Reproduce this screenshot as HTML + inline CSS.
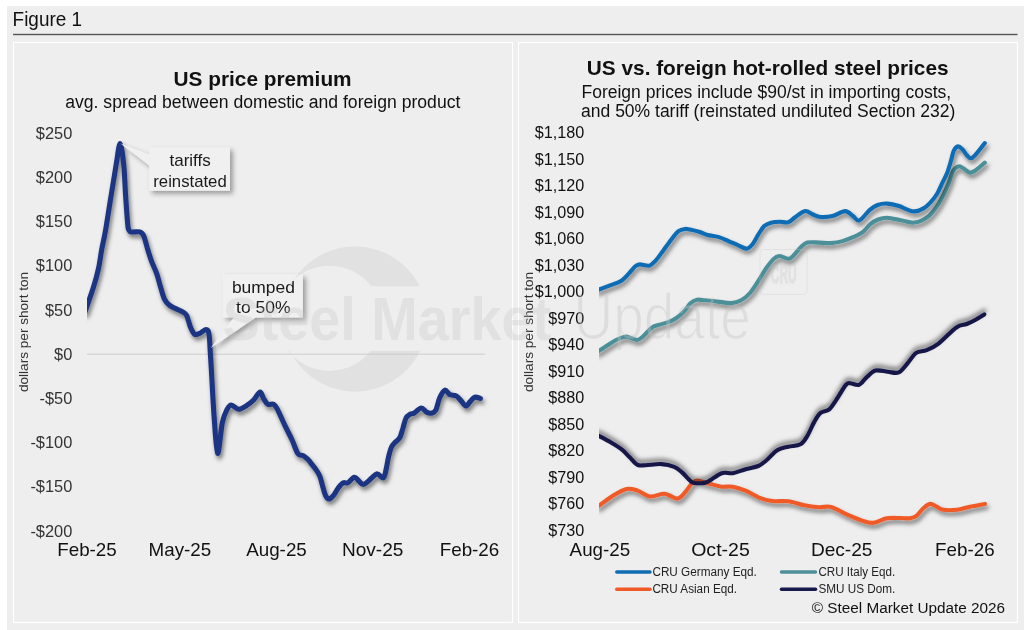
<!DOCTYPE html>
<html><head><meta charset="utf-8"><title>Figure 1</title>
<style>
html,body{margin:0;padding:0;background:#fff;}
body{width:1024px;height:630px;overflow:hidden;position:relative;font-family:"Liberation Sans", "Helvetica Neue", Helvetica, Arial, sans-serif;}
svg{position:absolute;left:0;top:0;display:block;}
svg{fill:#111111;} svg text{font-family:"Liberation Sans", "Helvetica Neue", Helvetica, Arial, sans-serif;}
</style></head><body>
<svg width="1024" height="630" viewBox="0 0 1024 630">
<defs>
<filter id="sh" x="-10%" y="-10%" width="130%" height="130%">
<feDropShadow dx="1.8" dy="3.5" stdDeviation="2.2" flood-color="#000" flood-opacity="0.5"/>
</filter>
<filter id="shup" x="-10%" y="-10%" width="130%" height="130%">
<feDropShadow dx="0" dy="-3.5" stdDeviation="2.2" flood-color="#000" flood-opacity="0.5"/>
</filter>
<filter id="bsh" x="-20%" y="-20%" width="150%" height="150%">
<feDropShadow dx="3" dy="3" stdDeviation="2.5" flood-color="#000" flood-opacity="0.35"/>
</filter>
<clipPath id="clipL"><rect x="87" y="100" width="420" height="440"/></clipPath>
<clipPath id="clipR"><rect x="599" y="100" width="410" height="440"/></clipPath>
</defs>
<rect x="7" y="6" width="1017" height="624" fill="#eeeeee"/>
<text x="12.6" y="25.9" font-size="19.6" textLength="69.5" lengthAdjust="spacingAndGlyphs">Figure 1</text>
<rect x="13" y="33.8" width="1004.5" height="1.4" fill="#555"/>
<rect x="13.5" y="42.5" width="499" height="580" fill="none" stroke="#fff" stroke-width="1.2"/>
<rect x="518.5" y="42.5" width="499" height="580" fill="none" stroke="#fff" stroke-width="1.2"/>

<!-- LEFT CHART -->
<text x="262.6" y="85.8" font-size="20.8" font-weight="bold" text-anchor="middle">US price premium</text>
<text x="262.8" y="107.6" font-size="17.6" text-anchor="middle">avg. spread between domestic and foreign product</text>
<g font-size="16.4" text-anchor="end" fill="#333">
<text x="72.3" y="138.9">$250</text>
<text x="72.3" y="183.1">$200</text>
<text x="72.3" y="227.3">$150</text>
<text x="72.3" y="271.4">$100</text>
<text x="72.3" y="315.6">$50</text>
<text x="72.3" y="359.8">$0</text>
<text x="72.3" y="404">-$50</text>
<text x="72.3" y="448.2">-$100</text>
<text x="72.3" y="492.3">-$150</text>
<text x="72.3" y="536.5">-$200</text>
</g>
<text transform="translate(27.6,332) rotate(-90)" font-size="13.6" text-anchor="middle" fill="#333">dollars per short ton</text>
<g font-size="18.6">
<text x="57.2" y="555.6" textLength="59.6" lengthAdjust="spacingAndGlyphs">Feb-25</text>
<text x="148.6" y="555.6" textLength="62.6" lengthAdjust="spacingAndGlyphs">May-25</text>
<text x="246.2" y="555.6" textLength="60.6" lengthAdjust="spacingAndGlyphs">Aug-25</text>
<text x="342" y="555.6" textLength="61.4" lengthAdjust="spacingAndGlyphs">Nov-25</text>
<text x="439.7" y="555.6" textLength="59.6" lengthAdjust="spacingAndGlyphs">Feb-26</text>
</g>
<rect x="87" y="353.6" width="398" height="1.2" fill="#d2d2d2"/>
<g clip-path="url(#clipL)">
<path d="M85,312 C86.4,307.9 91.2,294.4 93.5,287.1 C95.8,279.8 97.2,274.5 98.6,268.1 C100,261.8 100.6,255.3 101.8,249 C103,242.7 104,239.2 105.6,230 C107.2,220.8 109.6,204.7 111.4,193.8 C113.2,182.9 114.8,172.8 116.2,164.4 C117.7,156 118.8,143.6 120.1,143.6 C121.3,143.6 122.8,156 123.7,164.4 C124.6,172.8 124.9,184.7 125.5,193.8 C126.1,202.9 126.8,213.2 127.3,219 C127.8,224.8 127.7,226.3 128.3,228.5 C128.9,230.7 129.1,231.3 131,231.9 C132.9,232.5 137.7,231.2 139.8,231.9 C141.9,232.6 142.5,232.9 143.8,235.9 C145.1,238.9 146.5,245.5 147.8,249.8 C149.1,254.1 150.2,257.7 151.7,261.7 C153.2,265.7 155.2,269.3 156.7,273.6 C158.2,277.9 159.4,283.2 160.7,287.5 C162,291.8 163.1,296.4 164.6,299.4 C166.1,302.4 166.8,303.3 169.6,305.3 C172.4,307.3 178.7,309.7 181.5,311.3 C184.3,312.9 185,312.6 186.5,315.2 C188,317.8 189.1,324 190.4,327.1 C191.7,330.2 192.9,333 194.4,334.1 C195.9,335.2 197.1,334.1 199.4,333.5 C201.7,332.9 206.2,327 208.1,330.7 C209.9,334.4 209.5,341.6 210.5,355.7 C211.5,369.8 212.8,398.7 214,415 C215.2,431.3 216.2,452.1 217.6,453.3 C219,454.5 220.8,429.7 222.4,422.4 C224,415.1 225.6,412.2 227.1,409.3 C228.6,406.4 229.5,405 231.4,405 C233.3,405 236.1,409.2 238.6,409.3 C241.1,409.4 243.9,407.2 246.4,405.7 C248.9,404.1 251.3,402.3 253.6,400 C255.9,397.7 258.3,392.3 260,392.1 C261.7,391.9 262.3,396.6 263.6,398.6 C264.9,400.6 266.2,403.4 267.9,404.3 C269.6,405.2 272.1,403.6 273.6,404.3 C275.1,405 275.2,405 277.1,408.6 C279,412.2 282.5,420.5 285,425.7 C287.5,430.9 290,435.4 292.1,440 C294.2,444.6 296.1,451 297.9,453.6 C299.7,456.2 301.2,454.6 302.9,455.5 C304.6,456.4 306.5,458 307.9,459.3 C309.3,460.6 309.6,461.4 311.1,463.3 C312.6,465.2 315.2,468.4 316.7,470.6 C318.2,472.8 319,474 320,476.7 C321,479.4 321.9,483.5 322.8,486.7 C323.7,489.9 324.6,493.6 325.6,495.6 C326.6,497.6 327.6,498.9 328.9,498.9 C330.2,498.9 331.7,497.5 333.3,495.6 C334.9,493.8 336.6,489.9 338.3,487.8 C340,485.7 341.7,483.6 343.3,482.8 C344.9,482 346,483.7 347.8,482.8 C349.6,481.9 352.5,477.5 354.4,477.2 C356.2,476.9 357.4,479.9 358.9,481.1 C360.4,482.3 361.6,484.5 363.3,484.4 C365,484.3 366.7,482.4 368.9,480.6 C371.1,478.9 374.3,474.4 376.7,473.9 C379.1,473.4 381.7,478.6 383.3,477.8 C384.9,477 385.3,472.5 386.2,469 C387.1,465.5 387.6,460.6 388.5,457 C389.4,453.4 390.3,449.8 391.4,447.3 C392.5,444.9 393.8,443.9 395.2,442.3 C396.6,440.7 398.4,440.1 399.7,437.8 C401,435.5 401.8,431.6 402.9,428.3 C403.9,425 404.8,420.4 406,418.1 C407.2,415.8 408.5,415.2 409.9,414.3 C411.3,413.4 412.4,414.1 414.3,413 C416.2,411.9 419.2,408.1 421.3,408 C423.4,407.9 425.2,411.6 427,412.4 C428.8,413.2 430.6,413.4 432.1,413 C433.6,412.6 434.6,412.4 435.9,409.9 C437.2,407.4 438.2,401.1 439.7,397.8 C441.2,394.5 443.1,390.7 444.8,390.2 C446.5,389.7 448,393.7 449.9,394.6 C451.8,395.6 454.3,394.8 456.2,395.9 C458.1,397 459.7,399.3 461.3,401 C462.9,402.7 464.3,405.9 465.8,406 C467.3,406.1 468.7,403.1 470.2,401.6 C471.7,400.1 473,397.7 474.7,397.2 C476.4,396.7 479.4,398.2 480.4,398.4" fill="none" stroke="#1f3682" stroke-width="5.1" stroke-linejoin="round" stroke-linecap="round" filter="url(#sh)"/>
</g>

<!-- callouts -->
<g filter="url(#bsh)">
<path d="M149,147.3 L230,147.3 L230,190.8 L149,190.8 L149,165.2 L120.5,143.4 L149,154.4 Z" fill="#f0f0f0"/>
<path d="M222.9,274.3 L302.9,274.3 L302.9,317.6 L255.7,317.6 L210.7,347.9 L234,317.6 L222.9,317.6 Z" fill="#f0f0f0"/>
</g>
<g font-size="17" text-anchor="middle" fill="#1a1a1a">
<text x="190.1" y="166.2">tariffs</text>
<text x="190" y="186.7" textLength="73.5" lengthAdjust="spacingAndGlyphs">reinstated</text>
<text x="263.4" y="292.5" textLength="63" lengthAdjust="spacingAndGlyphs">bumped</text>
<text x="263.3" y="313.4" textLength="54.5" lengthAdjust="spacingAndGlyphs">to 50%</text>
</g>

<!-- RIGHT CHART -->
<text x="767.7" y="75.3" font-size="20.8" font-weight="bold" text-anchor="middle">US vs. foreign hot-rolled steel prices</text>
<text x="766.3" y="98" font-size="17.5" text-anchor="middle">Foreign prices include $90/st in importing costs,</text>
<text x="768.2" y="116.7" font-size="17.5" text-anchor="middle">and 50% tariff (reinstated undiluted Section 232)</text>
<g font-size="16.2" text-anchor="end">
<text x="584.3" y="138.1">$1,180</text>
<text x="584.3" y="164.6">$1,150</text>
<text x="584.3" y="191.1">$1,120</text>
<text x="584.3" y="217.6">$1,090</text>
<text x="584.3" y="244.1">$1,060</text>
<text x="584.3" y="270.7">$1,030</text>
<text x="584.3" y="297.2">$1,000</text>
<text x="584.3" y="323.7">$970</text>
<text x="584.3" y="350.2">$940</text>
<text x="584.3" y="376.7">$910</text>
<text x="584.3" y="403.2">$880</text>
<text x="584.3" y="429.7">$850</text>
<text x="584.3" y="456.2">$820</text>
<text x="584.3" y="482.7">$790</text>
<text x="584.3" y="509.2">$760</text>
<text x="584.3" y="535.8">$730</text>
</g>
<text transform="translate(533.1,332) rotate(-90)" font-size="13.6" text-anchor="middle" fill="#333">dollars per short ton</text>
<g font-size="18.6">
<text x="569.6" y="555.6" textLength="60.6" lengthAdjust="spacingAndGlyphs">Aug-25</text>
<text x="691.2" y="555.6" textLength="58.6" lengthAdjust="spacingAndGlyphs">Oct-25</text>
<text x="810.9" y="555.6" textLength="61.6" lengthAdjust="spacingAndGlyphs">Dec-25</text>
<text x="935" y="555.6" textLength="59.6" lengthAdjust="spacingAndGlyphs">Feb-26</text>
</g>
<g clip-path="url(#clipR)" fill="none" stroke-width="4.1" stroke-linejoin="round" stroke-linecap="round">
<path d="M597,352 C598.7,350.9 603.9,347.6 607.1,345.6 C610.3,343.6 613,341.5 616,340 C619,338.5 622.5,337.1 624.9,336.7 C627.3,336.3 628.4,337.2 630.4,337.8 C632.4,338.4 635,340.2 637.1,340 C639.2,339.8 640.3,338.7 642.7,336.7 C645.1,334.7 649,329.8 651.6,327.8 C654.2,325.9 655.4,325.9 658.2,325 C661,324.1 665.2,323.3 668.2,322.2 C671.2,321.1 673.4,320.1 676,318.3 C678.6,316.6 681.4,314.2 683.8,311.7 C686.2,309.2 688.2,305.3 690.4,303.3 C692.6,301.3 694.6,300.3 697,299.8 C699.4,299.3 702,300.1 705,300.3 C708,300.5 710.4,300.7 714.8,301.2 C719.2,301.7 726.9,303.2 731.3,303.1 C735.7,303 738,302 741.1,300.3 C744.2,298.6 747.2,296.1 750,293 C752.8,289.9 755.3,285.6 758,281.5 C760.7,277.4 763.5,272.1 766,268.5 C768.5,264.9 770.9,261.7 773,259.6 C775.1,257.5 776.3,256.1 778.9,256 C781.5,255.8 786.2,259 788.8,258.7 C791.4,258.4 792.6,256.2 794.6,254.3 C796.6,252.4 798.4,249.4 800.5,247.5 C802.6,245.6 804.2,243.4 807.3,242.6 C810.4,241.8 815.2,242.5 819.1,242.6 C823,242.7 826.9,243.3 830.8,243.1 C834.7,242.8 838.6,242.2 842.5,241.1 C846.4,240 850.8,238.2 854.2,236.7 C857.6,235.1 860.4,233.8 863,231.8 C865.6,229.8 867.5,226.6 870,224.5 C872.5,222.4 875.1,220.6 878,219.5 C880.9,218.4 883.3,217.5 887.3,217.7 C891.3,217.9 897.4,219.8 902,220.6 C906.6,221.4 910.3,223.3 914.7,222.6 C919.1,221.9 924.5,219.3 928.4,216.3 C932.3,213.3 935.3,208.6 938.1,204.5 C940.9,200.4 943.2,195.2 945,191.5 C946.8,187.8 947.7,186 949,182.6 C950.3,179.2 951.3,173.9 952.9,171.2 C954.5,168.5 956.9,166.9 958.6,166.4 C960.3,165.9 961.4,167.3 963.3,168.3 C965.2,169.3 967.9,172.3 970,172.6 C972.1,172.9 973.2,171.9 975.7,170.2 C978.2,168.5 983.3,163.9 984.8,162.6" stroke="#4c9099" filter="url(#sh)"/>
<path d="M597,290.3 C599.2,289.5 605.9,287 610,285.4 C614.1,283.8 618.2,282.7 621.4,280.7 C624.6,278.7 626.7,275.7 629,273.3 C631.3,270.9 633.5,267.8 635.3,266.3 C637.1,264.8 637.5,264.5 639.8,264.4 C642.1,264.3 646.7,266.3 649.3,265.7 C651.9,265.1 653.3,263.1 655.6,260.6 C657.9,258.1 660.5,254.2 663.3,250.5 C666,246.8 669.6,241.6 672.1,238.4 C674.6,235.2 676.4,232.8 678.5,231.2 C680.6,229.6 682.9,229.2 684.8,228.9 C686.7,228.6 687.5,229 690,229.5 C692.5,230 696.9,231.1 699.8,232 C702.7,232.9 704.5,234.1 707.6,234.9 C710.7,235.7 714.7,235.8 718.3,236.9 C721.9,238 725.7,239.9 729.1,241.3 C732.5,242.8 735.9,244.4 738.8,245.6 C741.7,246.8 744.3,248.8 746.6,248.6 C748.9,248.4 750.5,246.6 752.5,244.2 C754.5,241.8 756.4,237.4 758.4,234.4 C760.4,231.4 762.1,228.1 764.2,226.1 C766.3,224.1 768.5,223.4 771.1,222.7 C773.7,222 776.9,221.8 779.8,221.7 C782.6,221.6 785.6,223.1 788.2,222.3 C790.8,221.5 792.6,218.9 795.4,217 C798.2,215.1 802.3,211.5 805.2,211.1 C808.1,210.7 810.4,213.5 813,214.5 C815.6,215.5 817.5,216.8 820.8,217 C824,217.2 828.4,217 832.5,216 C836.6,215 841.8,211.1 845.2,211.1 C848.6,211.1 850.6,214.4 853,216 C855.4,217.6 856.6,221.4 859.4,220.4 C862.2,219.4 866.8,212.5 869.8,209.9 C872.8,207.3 874.7,206.1 877.6,205 C880.5,203.9 883.7,203.4 887.3,203.6 C890.9,203.8 895.8,205 899.1,206 C902.4,207 904.3,208.5 906.9,209.4 C909.5,210.3 911.9,211.6 914.7,211.4 C917.5,211.2 920.9,209.9 923.5,208.4 C926.1,206.9 928,205 930.3,202.6 C932.6,200.2 935.1,197.1 937.1,193.8 C939.1,190.5 940.7,186.1 942.4,182.6 C944.1,179.1 945.7,176.8 947.1,173.1 C948.5,169.4 949.9,164.4 951,160.7 C952.1,157 952.6,153.1 953.8,150.7 C955,148.3 956.7,146.6 958.1,146.4 C959.5,146.2 960.9,147.8 962.4,149.3 C963.9,150.8 965.7,154 967.1,155.5 C968.5,157 969.6,158.5 971,158.3 C972.4,158.1 973.4,157 975.7,154.5 C978,152 983.3,145 984.8,143.1" stroke="#0f6cb3" filter="url(#sh)"/>
<path d="M598,506.4 C600.4,504.7 607.5,499.1 612.2,496.2 C617,493.3 622.3,489.9 626.5,489 C630.7,488.1 633.6,489.4 637.6,490.6 C641.6,491.9 645.8,496 650.3,496.5 C654.8,497 660.1,493.4 664.6,493.8 C669.1,494.2 673.9,498.9 677.3,498.6 C680.7,498.3 682.6,495 685.2,492.2 C687.9,489.4 690.8,483.8 693.2,481.9 C695.6,480 696.9,480.8 699.5,481.1 C702.1,481.4 705.3,482.6 709,483.5 C712.7,484.4 717.7,486.2 721.7,486.7 C725.7,487.2 728.9,486 732.9,486.7 C736.9,487.4 741.1,488.8 745.6,490.6 C750.1,492.5 755.3,496.1 759.8,497.8 C764.3,499.5 767.7,500.4 772.5,501 C777.3,501.6 783.1,500.6 788.4,501.3 C793.7,502 799.3,504.3 804.4,505.3 C809.5,506.3 814.4,506.9 818.9,507.2 C823.4,507.5 826.6,505.8 831.1,506.9 C835.6,508 840.4,511.6 845.6,513.9 C850.8,516.2 857.6,519.1 862.2,520.6 C866.8,522.1 869.2,523.2 873.3,522.8 C877.4,522.4 882.2,519.1 886.7,518.3 C891.2,517.5 896.1,518 900,518 C903.9,518 907.2,518.7 910,518.3 C912.8,517.9 914.5,517.3 916.7,515.6 C918.9,513.9 921.1,510.2 923.3,508.3 C925.5,506.4 927.8,504.2 930,503.9 C932.2,503.6 934.5,505.7 936.7,506.7 C938.9,507.7 940,509.3 943.3,509.8 C946.6,510.3 952.2,510.3 956.7,509.8 C961.2,509.3 965.3,507.7 970,506.7 C974.7,505.7 982.5,504.4 985,503.9" stroke="#f05a28" filter="url(#sh)"/>
<path d="M598,435.5 C600.1,436.6 606.6,439.9 610.6,442.2 C614.6,444.5 618.5,446.9 621.7,449.4 C624.9,451.9 627.1,454.7 629.7,457.3 C632.4,459.9 635,463.5 637.6,464.8 C640.2,466.1 641.6,465.3 645.6,465.2 C649.6,465.1 656.6,463.8 661.4,464.1 C666.1,464.4 670.7,465.4 674.1,466.8 C677.5,468.2 679.1,469.9 682,472.4 C684.9,474.9 688.7,480.1 691.6,481.9 C694.5,483.7 696.9,483.2 699.5,483.2 C702.1,483.2 703.8,483.6 707.5,481.9 C711.2,480.2 717.5,474.6 721.7,473.2 C725.9,471.8 728.9,473.9 732.9,473.2 C736.9,472.5 741.4,470.4 745.6,469.2 C749.8,468 754.9,467.4 758.3,466 C761.7,464.6 763,463.1 766.2,460.5 C769.4,457.9 773.6,452.5 777.3,450.2 C781,447.9 784.5,447.7 788.4,446.7 C792.3,445.7 797.3,446.1 800.5,444.3 C803.7,442.5 805.2,439.4 807.5,435.6 C809.8,431.8 812.2,425.4 814.4,421.6 C816.6,417.8 818.1,414.9 820.6,412.9 C823.1,410.9 826.7,411.6 829.3,409.4 C831.9,407.2 833.5,403.9 836.3,399.8 C839.1,395.7 843.6,387.7 845.9,384.9 C848.2,382.1 848,383.2 850.2,383.2 C852.4,383.2 856.2,385.9 859,384.9 C861.8,383.9 864,379.5 866.8,377.1 C869.6,374.7 872.1,371.5 875.6,370.6 C879.1,369.7 883.9,371.5 887.8,371.8 C891.6,372.1 895.4,373.8 898.7,372.4 C902,371 904.6,366.6 907.5,363.3 C910.4,360.1 913,355.1 916.2,352.9 C919.4,350.7 922.9,351.8 926.7,350.2 C930.5,348.6 934,347.1 938.9,343.3 C943.8,339.5 951.8,330.7 956.4,327.5 C961,324.3 963.6,325.3 966.8,324 C970,322.7 972.7,321.3 975.6,319.7 C978.5,318.1 982.8,315.3 984.3,314.4" stroke="#161949" filter="url(#shup)"/>
</g>

<!-- legend -->
<g stroke-width="3.5" stroke-linecap="round">
<line x1="616.8" y1="572.1" x2="650" y2="572.1" stroke="#0f6cb3"/>
<line x1="616.8" y1="589.3" x2="650" y2="589.3" stroke="#f05a28"/>
<line x1="781.5" y1="572.1" x2="815.5" y2="572.1" stroke="#4c9099"/>
<line x1="781.5" y1="589.3" x2="815.5" y2="589.3" stroke="#161949"/>
</g>
<g font-size="12" fill="#222">
<text x="652.4" y="576.1" textLength="104.5" lengthAdjust="spacingAndGlyphs">CRU Germany Eqd.</text>
<text x="652.4" y="593.3" textLength="84.6" lengthAdjust="spacingAndGlyphs">CRU Asian Eqd.</text>
<text x="818.4" y="576.1" textLength="76.8" lengthAdjust="spacingAndGlyphs">CRU Italy Eqd.</text>
<text x="818.4" y="593.3" textLength="77" lengthAdjust="spacingAndGlyphs">SMU US Dom.</text>
</g>
<text x="1005" y="612.6" font-size="15.3" text-anchor="end">© Steel Market Update 2026</text>

<!-- watermark -->
<defs>
<clipPath id="ringclip"><rect x="270" y="230" width="170" height="56.2"/><rect x="270" y="350.7" width="170" height="60"/></clipPath>
<mask id="upmask" maskUnits="userSpaceOnUse" x="0" y="0" width="1024" height="630">
<text x="0" y="0" transform="translate(573.5,339.2) scale(0.9,1)" font-size="64.5" fill="#fff" stroke="#000" stroke-width="1.4" textLength="197" lengthAdjust="spacingAndGlyphs">Update</text>
</mask>
</defs>
<g opacity="0.3" fill="#c4c4c4">
<path clip-path="url(#ringclip)" fill-rule="evenodd" d="M355,246.5 a72.5,72.5 0 1 0 0.01,0 Z M329.5,265.7 a52.6,52.6 0 1 0 0.01,0 Z"/>
<text x="0" y="0" transform="translate(222.5,340) scale(0.9,1)" font-size="62" font-weight="bold">Steel Market</text>
</g>
<rect x="560" y="280" width="200" height="70" mask="url(#upmask)" fill="#c4c4c4" opacity="0.38"/>
<!-- CRU logo -->
<g opacity="0.3" fill="#c6c6c6" stroke="#c6c6c6">
<rect x="760" y="249.5" width="47" height="45" rx="3.5" fill="none" stroke-width="1"/>
<text x="0" y="0" transform="translate(770.8,282.8) scale(0.45,1)" font-size="26.5" font-weight="bold" stroke-width="1.6">CRU</text>
</g>
</svg>
</body></html>
